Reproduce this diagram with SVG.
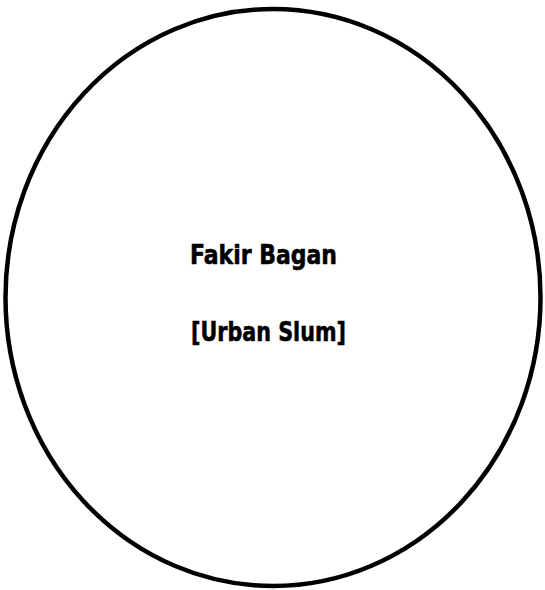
<svg xmlns="http://www.w3.org/2000/svg" width="545" height="590" viewBox="0 0 545 590">
<style>
.lbl{font-family:"DejaVu Sans","Liberation Sans",sans-serif;font-weight:bold;font-size:27px;fill:#000;stroke:#000;stroke-width:0.6}
</style>
<rect width="545" height="590" fill="#fff"/>
<g id="slum">
<ellipse cx="273" cy="297.5" rx="267.5" ry="288.5" fill="none" stroke="#000" stroke-width="4.5"/>
<text class="lbl" x="190" y="264" textLength="147" lengthAdjust="spacingAndGlyphs">Fakir Bagan</text>
<text class="lbl" x="191" y="341" textLength="155" lengthAdjust="spacingAndGlyphs">[Urban Slum]</text>
</g>
</svg>
